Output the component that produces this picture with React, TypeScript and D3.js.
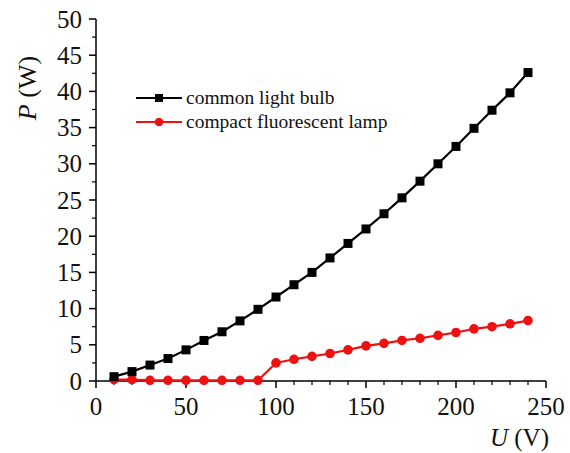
import React from "react";
import * as d3 from "d3";

const voltages = [10, 20, 30, 40, 50, 60, 70, 80, 90, 100, 110, 120, 130, 140, 150, 160, 170, 180, 190, 200, 210, 220, 230, 240];
const bulbPower = [0.6, 1.3, 2.2, 3.1, 4.3, 5.6, 6.8, 8.3, 9.9, 11.6, 13.3, 15.0, 17.0, 19.0, 21.0, 23.1, 25.3, 27.6, 30.0, 32.4, 34.9, 37.4, 39.8, 42.6];
const cflPower = [0.2, 0.2, 0.1, 0.1, 0.1, 0.1, 0.1, 0.1, 0.1, 2.5, 3.0, 3.4, 3.8, 4.3, 4.85, 5.2, 5.6, 5.9, 6.3, 6.7, 7.2, 7.5, 7.9, 8.35];
const xTicks = [0, 50, 100, 150, 200, 250];
const yTicks = [0, 5, 10, 15, 20, 25, 30, 35, 40, 45, 50];
const seriesNames = ["common light bulb", "compact fluorescent lamp"];

const W = 570, H = 453;
const x0 = 96, x1 = 546, yTop = 19, yBot = 381;
const FONT = "Liberation Serif, DejaVu Serif, serif";

export default function App() {
  const x = d3.scaleLinear().domain([0, 250]).range([x0, x1]);
  const y = d3.scaleLinear().domain([0, 50]).range([yBot, yTop]);
  const line = d3.line<[number, number]>().x(d => x(d[0])).y(d => y(d[1]));
  const bulbData: [number, number][] = voltages.map((v, i) => [v, bulbPower[i]]);
  const cflData: [number, number][] = voltages.map((v, i) => [v, cflPower[i]]);
  const xMinor = d3.range(0, 251, 10).filter(v => v % 50 !== 0);
  const yMinor = d3.range(0, 50.1, 2.5).filter(v => v % 5 !== 0);
  const ts = { fontFamily: FONT };
  return (
    <svg width={W} height={H} style={{ position: "absolute", left: 0, top: 0, background: "#fff" }}>
      <rect x={0} y={0} width={W} height={H} fill="#fff" />
      {/* axes */}
      <line x1={x0} x2={x0} y1={yTop} y2={yBot} stroke="#000" strokeWidth={1.5} />
      <line x1={x0} x2={x1} y1={yBot} y2={yBot} stroke="#000" strokeWidth={1.5} />
      {xTicks.map(t => (
        <g key={"xt" + t}>
          <line x1={x(t)} x2={x(t)} y1={yBot} y2={yBot + 7} stroke="#000" strokeWidth={1.5} />
          <text x={x(t)} y={yBot + 34} fontSize={25} textAnchor="middle" fill="#111" style={ts}>{t}</text>
        </g>
      ))}
      {xMinor.map(t => (
        <line key={"xm" + t} x1={x(t)} x2={x(t)} y1={yBot} y2={yBot + 4} stroke="#000" strokeWidth={1.2} />
      ))}
      {yTicks.map(t => (
        <g key={"yt" + t}>
          <line x1={x0 - 7} x2={x0} y1={y(t)} y2={y(t)} stroke="#000" strokeWidth={1.5} />
          <text x={x0 - 14} y={y(t) + 8.5} fontSize={25} textAnchor="end" fill="#111" style={ts}>{t}</text>
        </g>
      ))}
      {yMinor.map(t => (
        <line key={"ym" + t} x1={x0 - 4} x2={x0} y1={y(t)} y2={y(t)} stroke="#000" strokeWidth={1.2} />
      ))}
      {/* axis titles */}
      <text transform={`translate(36, 88) rotate(-90)`} fontSize={26} textAnchor="middle" fill="#111" style={ts}>
        <tspan fontStyle="italic">P</tspan> (W)
      </text>
      <text x={549} y={446} fontSize={25} textAnchor="end" fill="#111" style={ts}>
        <tspan fontStyle="italic">U</tspan> (V)
      </text>
      {/* series */}
      <path d={line(cflData) || ""} fill="none" stroke="#ee1111" strokeWidth={2.2} />
      {cflData.map((d, i) => (
        <circle key={"c" + i} cx={x(d[0])} cy={y(d[1])} r={4.8} fill="#ee1111" />
      ))}
      <path d={line(bulbData) || ""} fill="none" stroke="#000" strokeWidth={2.2} />
      {bulbData.map((d, i) => (
        <rect key={"b" + i} x={x(d[0]) - 4.5} y={y(d[1]) - 4.5} width={9} height={9} fill="#000" />
      ))}
      {/* legend */}
      <g>
        <line x1={136} x2={182} y1={98} y2={98} stroke="#000" strokeWidth={2.2} />
        <rect x={159 - 4} y={98 - 4} width={8} height={8} fill="#000" />
        <text x={186} y={104} fontSize={19.5} fill="#111" style={ts}>{seriesNames[0]}</text>
        <line x1={136} x2={182} y1={122} y2={122} stroke="#ee1111" strokeWidth={2.2} />
        <circle cx={159} cy={122} r={4.3} fill="#ee1111" />
        <text x={186} y={128} fontSize={19.5} fill="#111" style={ts}>{seriesNames[1]}</text>
      </g>
    </svg>
  );
}
